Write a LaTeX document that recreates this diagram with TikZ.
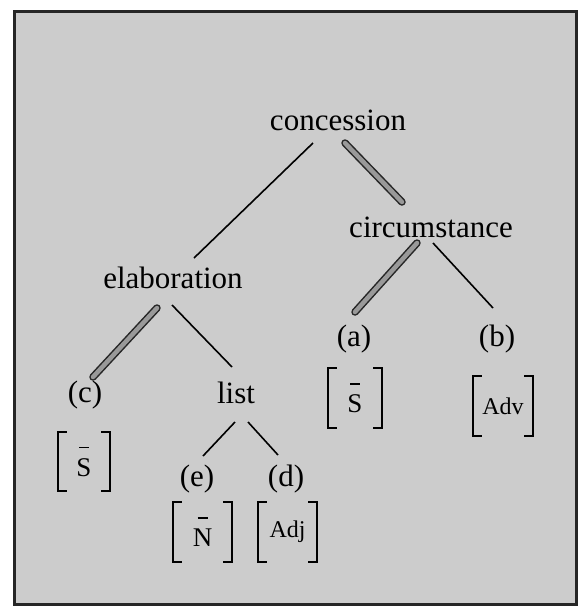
\documentclass[tikz,border=0pt]{standalone}
\usepackage{fontspec}
\setmainfont{Liberation Serif}
\usetikzlibrary{calc}
\newcommand{\barred}[1]{{\setbox0\hbox{#1}\rlap{\hbox to\wd0{\hss\raisebox{\dimexpr\ht0+10pt}{\rule{10pt}{1.8pt}}\hss}}\box0}}
\begin{document}
\begin{tikzpicture}[x=1pt,y=-1pt,
  lbl/.style={font=\fontsize{31}{34}\selectfont, inner sep=0pt, anchor=base},
  solidln/.style={line width=1.6pt},
  hatch/.style={line width=1.5pt, draw=black!85, double=black!40, double distance=4.5pt, line cap=round},
  brkfont/.style={font=\fontsize{27}{30}\selectfont},
  brksm/.style={font=\fontsize{24}{28}\selectfont},
  brk/.style={draw=none, inner sep=0pt}]
\useasboundingbox (0,0) rectangle (579,606);
\fill[white] (0,0) rectangle (579,606);
\filldraw[fill=black!20, draw=black!85, line width=3pt] (14,11) rectangle (576,604);
% nodes
\node[lbl] (conc) at (338,130) {concession};
\node[lbl] (circ) at (431,237) {circumstance};
\node[lbl] (elab) at (173,288) {elaboration};
\node[lbl] (a) at (354,346) {(a)};
\node[lbl] (b) at (497,346) {(b)};
\node[lbl] (c) at (85,402) {(c)};
\node[lbl] (list) at (236,403) {list};
\node[lbl] (e) at (197,486) {(e)};
\node[lbl] (d) at (286,486) {(d)};
\node[brk, brkfont, minimum width=54pt, minimum height=60pt] (sa) at (355,398) {\barred{S}};
\node[brk, brksm, minimum width=60pt, minimum height=60pt] (adv) at (503,406) {Adv};
\node[brk, brkfont, minimum width=52pt, minimum height=59pt] (sc) at (84,461.5) {\barred{S}};
\node[brk, brkfont, minimum width=59pt, minimum height=60pt] (nbar) at (202.5,532) {\barred{N}};
\node[brk, brksm, minimum width=59pt, minimum height=60pt] (adj) at (287.5,532) {Adj};
% brackets
\foreach \n in {sa,adv,sc,nbar,adj}{
  \draw[line width=2pt] ([xshift=9pt]\n.north west) -- (\n.north west) -- (\n.south west) -- ([xshift=9pt]\n.south west);
  \draw[line width=2pt] ([xshift=-9pt]\n.north east) -- (\n.north east) -- (\n.south east) -- ([xshift=-9pt]\n.south east);
}
% connectors
\draw[solidln] ($(conc.base)+(-25,13)$) -- ($(elab.base)+(21,-30)$);
\draw[hatch] ($(conc.base)+(7,13)$) -- ($(circ.base)+(-29,-35)$);
\draw[hatch] ($(circ.base)+(-14,6)$) -- ($(a.base)+(1,-34)$);
\draw[solidln] ($(circ.base)+(2,6)$) -- ($(b.base)+(-4,-38)$);
\draw[hatch] ($(elab.base)+(-16,20)$) -- ($(c.base)+(8,-25)$);
\draw[solidln] ($(elab.base)+(-1,17)$) -- ($(list.base)+(-4,-36)$);
\draw[solidln] ($(list.base)+(-1,19)$) -- ($(e.base)+(6,-30)$);
\draw[solidln] ($(list.base)+(12,19)$) -- ($(d.base)+(-8,-31)$);
\end{tikzpicture}
\end{document}
